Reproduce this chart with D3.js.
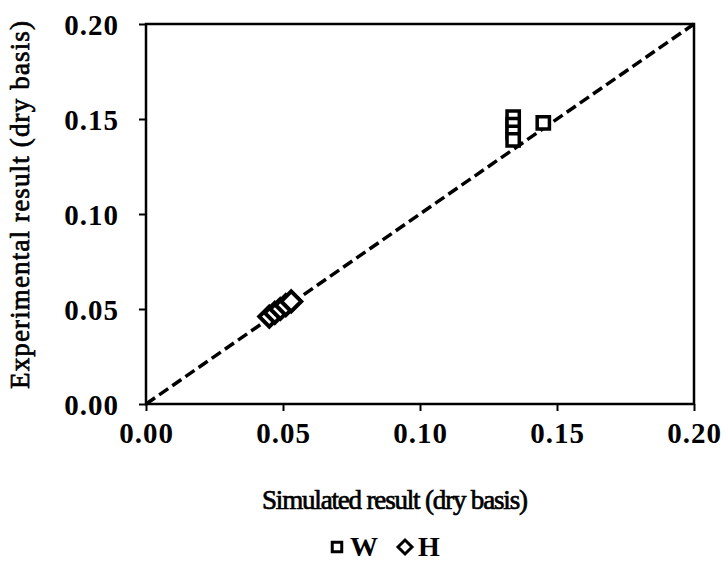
<!DOCTYPE html>
<html>
<head>
<meta charset="utf-8">
<script src="https://cdn.jsdelivr.net/npm/d3@7"></script>
<style>
  body { margin: 0; background: #fff; }
  text { font-family: "Liberation Serif", "Times New Roman", serif; fill: #000; }
</style>
</head>
<body>
<div id="chart"></div>
<script>
// simulated vs experimental moisture content (dry basis)
const wSim = [0.134, 0.134, 0.134, 0.134, 0.145];
const wExp = [0.151, 0.147, 0.143, 0.139, 0.148];
const hSim = [0.045, 0.047, 0.049, 0.051, 0.053];
const hExp = [0.046, 0.048, 0.050, 0.052, 0.054];
const ticks = [0.00, 0.05, 0.10, 0.15, 0.20];
const legendItems = ['W', 'H'];

const width = 728, height = 570;
const svg = d3.select('#chart').append('svg')
    .attr('width', width)
    .attr('height', height);

const x = d3.scaleLinear().domain([0, 0.2]).range([146, 694]);
const y = d3.scaleLinear().domain([0, 0.2]).range([404, 24]);

// rhombus (square turned 45 degrees), r = half diagonal
const diamond = r => `M0,${-r}L${r},0L0,${r}L${-r},0Z`;

// y axis
const yAxis = svg.append('g')
    .attr('transform', 'translate(146,0)')
    .call(d3.axisLeft(y).tickValues(ticks).tickFormat(d3.format('.2f')).tickSize(7).tickPadding(20));
yAxis.selectAll('text')
    .style('font-size', '29px').style('font-weight', 'bold').style('letter-spacing', '1px')
    .attr('dy', '0.35em');

// x axis
const xAxis = svg.append('g')
    .attr('transform', 'translate(0,404)')
    .call(d3.axisBottom(x).tickValues(ticks).tickFormat(d3.format('.2f')).tickSize(7).tickPadding(11));
xAxis.selectAll('text')
    .style('font-size', '29px').style('font-weight', 'bold').style('letter-spacing', '1px');

svg.selectAll('.domain').remove();
svg.selectAll('.tick line').attr('stroke', '#000').attr('stroke-width', 2);

// frame
svg.append('rect')
    .attr('x', x(0)).attr('y', y(0.2))
    .attr('width', x(0.2) - x(0)).attr('height', y(0) - y(0.2))
    .attr('fill', 'none').attr('stroke', '#000').attr('stroke-width', 2.5);

// 1:1 line
svg.append('line')
    .attr('x1', x(0)).attr('y1', y(0))
    .attr('x2', x(0.2)).attr('y2', y(0.2))
    .attr('stroke', '#000').attr('stroke-width', 3.5)
    .attr('stroke-dasharray', '11,5');

const sq = d3.symbol().type(d3.symbolSquare).size(150);

svg.selectAll('.w')
    .data(wSim.map((d, i) => [d, wExp[i]]))
    .enter().append('path')
    .attr('class', 'w')
    .attr('d', sq)
    .attr('transform', d => `translate(${x(d[0])},${y(d[1])})`)
    .attr('fill', '#fff').attr('stroke', '#000').attr('stroke-width', 3.5);

svg.selectAll('.h')
    .data(hSim.map((d, i) => [d, hExp[i]]))
    .enter().append('path')
    .attr('class', 'h')
    .attr('d', diamond(10))
    .attr('transform', d => `translate(${x(d[0])},${y(d[1])})`)
    .attr('fill', '#fff').attr('stroke', '#000').attr('stroke-width', 4);

// axis titles
svg.append('text')
    .attr('x', 395).attr('y', 509)
    .attr('text-anchor', 'middle')
    .attr('textLength', 266)
    .style('font-size', '27px')
    .attr('stroke', '#000').attr('stroke-width', 0.7)
    .text('Simulated result (dry basis)');

svg.append('text')
    .attr('transform', 'translate(29,205) rotate(-90)')
    .attr('text-anchor', 'middle')
    .attr('textLength', 368)
    .style('font-size', '27px')
    .attr('stroke', '#000').attr('stroke-width', 0.7)
    .text('Experimental result (dry basis)');

// legend
const leg = svg.append('g').attr('transform', 'translate(337,547)');
legendItems.forEach((name, i) => {
    const g = leg.append('g').attr('transform', `translate(${i * 68},0)`);
    g.append('path')
        .attr('d', i === 0 ? d3.symbol().type(d3.symbolSquare).size(90)() : diamond(7))
        .attr('fill', 'none').attr('stroke', '#000').attr('stroke-width', 3);
    g.append('text')
        .attr('x', 13).attr('y', 9)
        .style('font-size', '28px').style('font-weight', 'bold')
        .text(name);
});
</script>
</body>
</html>
